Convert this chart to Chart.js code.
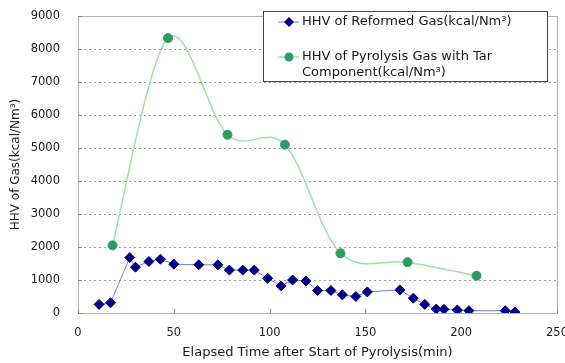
<!DOCTYPE html>
<html>
<head>
<meta charset="utf-8">
<script src="https://cdn.jsdelivr.net/npm/chart.js@4/dist/chart.umd.min.js"></script>
<style>
html,body{margin:0;padding:0;background:#fff;}
#wrap{width:565px;height:363px;position:relative;}
</style>
</head>
<body>
<div id="wrap"><canvas id="c" width="565" height="363"></canvas></div>
<script>
// ---- data ----
const reformedTime = [11,17,27,30,37,43,50,63,73,79,86,92,99,106,112,119,125,132,138,145,151,168,175,181,187,191,198,204,223,228];
const reformedHHV  = [260,310,1680,1390,1560,1630,1480,1460,1460,1300,1300,1300,1050,820,1000,970,680,680,550,500,640,700,450,260,120,110,90,70,70,30];
const pyrolysisTime = [18,47,78,108,137,172,208];
const pyrolysisHHV  = [2050,8330,5400,5100,1810,1540,1130];
const xTicks = [0,50,100,150,200,250];
const yTicks = [0,1000,2000,3000,4000,5000,6000,7000,8000,9000];
const reformedLabel = 'HHV of Reformed Gas(kcal/Nm³)';
const pyrolysisLabel = ['HHV of Pyrolysis Gas with Tar', 'Component(kcal/Nm³)'];
const xTitle = 'Elapsed Time after Start of Pyrolysis(min)';
const yTitle = 'HHV of Gas(kcal/Nm³)';

const FONT = '"DejaVu Sans", Verdana, sans-serif';
const TEXT = '#1a1a1a';
const toPts = (xs, ys) => xs.map((x, i) => ({x: x, y: ys[i]}));

// Spreadsheet-style smoothing: uniform Catmull-Rom control points for datasets flagged "smooth"
const smoothing = {
  id: 'smoothing',
  beforeDatasetsDraw(chart) {
    chart.data.datasets.forEach((ds, di) => {
      if (!ds.smooth) return;
      const meta = chart.getDatasetMeta(di);
      if (!meta.dataset) return;
      meta.dataset.updateControlPoints(chart.chartArea, 'x');
      const pts = meta.data;
      for (let i = 0; i < pts.length; i++) {
        const p = pts[i];
        const prev = pts[i - 1] || p;
        const next = pts[i + 1] || p;
        const dx = (next.x - prev.x) / 6;
        const dy = (next.y - prev.y) / 6;
        p.cp1x = p.x - dx; p.cp1y = p.y - dy;
        p.cp2x = p.x + dx; p.cp2y = p.y + dy;
      }
      meta.dataset._path = undefined;
    });
  }
};

const frame = {
  id: 'frame',
  beforeDatasetsDraw(chart) {
    const {ctx, chartArea: a, scales} = chart;
    ctx.save();
    ctx.strokeStyle = '#b0b0b0';
    ctx.lineWidth = 1;
    ctx.strokeRect(Math.round(a.left) + 0.5, Math.round(a.top) + 0.5, Math.round(a.right - a.left), Math.round(a.bottom - a.top));
    ctx.strokeStyle = '#888';
    ctx.beginPath();
    yTicks.forEach(v => {
      const y = Math.round(scales.y.getPixelForValue(v)) + 0.5;
      ctx.moveTo(a.left, y); ctx.lineTo(a.left + 4, y);
    });
    xTicks.forEach(v => {
      const x = Math.round(scales.x.getPixelForValue(v)) + 0.5;
      ctx.moveTo(x, a.bottom); ctx.lineTo(x, a.bottom - 4);
    });
    ctx.stroke();
    ctx.restore();
  }
};

const legendBox = {
  id: 'legendBox',
  afterDraw(chart) {
    const {ctx} = chart;
    const ds = chart.data.datasets;
    ctx.save();
    const bx = 263, by = 11, bw = 284, bh = 70;
    ctx.fillStyle = '#fff';
    ctx.fillRect(bx, by, bw, bh);
    ctx.strokeStyle = '#444';
    ctx.lineWidth = 1;
    ctx.strokeRect(bx + 0.5, by + 0.5, bw, bh);
    const entries = [{ds: ds[0], y: 22, lines: [ds[0].label]}, {ds: ds[1], y: 57, lines: ds[1].legendLines}];
    entries.forEach(e => {
      ctx.strokeStyle = e.ds.borderColor;
      ctx.lineWidth = e.ds.borderWidth;
      ctx.beginPath(); ctx.moveTo(278, e.y); ctx.lineTo(299, e.y); ctx.stroke();
      ctx.fillStyle = e.ds.pointBackgroundColor;
      ctx.beginPath();
      if (e.ds.pointStyle === 'rectRot') {
        const r = e.ds.pointRadius;
        ctx.moveTo(289, e.y - r); ctx.lineTo(289 + r, e.y); ctx.lineTo(289, e.y + r); ctx.lineTo(289 - r, e.y); ctx.closePath();
      } else {
        ctx.arc(289, e.y, e.ds.pointRadius, 0, Math.PI * 2);
      }
      ctx.fill();
      ctx.fillStyle = TEXT;
      ctx.font = '13px ' + FONT;
      ctx.textBaseline = 'middle';
      ctx.textAlign = 'left';
      e.lines.forEach((t, i) => ctx.fillText(t, 302, e.y + i * 15.5));
    });
    ctx.restore();
  }
};

new Chart(document.getElementById('c'), {
  type: 'line',
  data: {
    datasets: [
      {
        label: reformedLabel,
        data: toPts(reformedTime, reformedHHV),
        borderColor: '#7878d8',
        borderWidth: 1,
        pointStyle: 'rectRot',
        pointRadius: 5,
        pointBackgroundColor: '#000080',
        pointBorderColor: '#000080',
        pointBorderWidth: 1,
        tension: 0,
        order: 2
      },
      {
        label: pyrolysisLabel.join(' '),
        legendLines: pyrolysisLabel,
        smooth: true,
        data: toPts(pyrolysisTime, pyrolysisHHV),
        borderColor: '#9be69b',
        borderWidth: 1.5,
        pointStyle: 'circle',
        pointRadius: 4.5,
        pointBackgroundColor: '#2e9a64',
        pointBorderColor: '#2e9a64',
        pointBorderWidth: 1,
        tension: 0.3,
        capBezierPoints: false,
        cubicInterpolationMode: 'default',
        order: 1
      }
    ]
  },
  options: {
    responsive: false,
    animation: false,
    devicePixelRatio: 1,
    layout: {padding: {top: 16, right: 8, left: 0, bottom: 0}},
    plugins: {legend: {display: false}, tooltip: {enabled: false}},
    scales: {
      x: {
        type: 'linear', min: 0, max: 250,
        afterBuildTicks: s => { s.ticks = xTicks.map(v => ({value: v})); },
        afterFit: s => { s.height = 50; s.paddingLeft = 0; s.paddingRight = 0; },
        grid: {display: false, drawTicks: false},
        border: {display: true, color: '#999', width: 1},
        ticks: {color: TEXT, font: {family: FONT, size: 11.5}, padding: 13, maxRotation: 0, autoSkip: false, callback: v => String(v)},
        title: {display: true, text: xTitle, color: TEXT, font: {family: FONT, size: 13}, padding: {top: 4, bottom: 3}}
      },
      y: {
        type: 'linear', min: 0, max: 9000,
        afterBuildTicks: s => { s.ticks = yTicks.map(v => ({value: v})); },
        afterFit: s => { s.width = 78; s.paddingTop = 0; s.paddingBottom = 0; },
        grid: {
          drawTicks: false,
          color: c => (c.tick && (c.tick.value === 0 || c.tick.value === 9000)) ? 'rgba(0,0,0,0)' : '#9a9a9a',
          lineWidth: 1
        },
        border: {display: true, color: '#999', width: 1, dash: [2, 3]},
        ticks: {color: TEXT, font: {family: FONT, size: 11.5}, padding: 18, autoSkip: false, callback: v => String(v)},
        title: {display: true, text: yTitle, color: TEXT, font: {family: FONT, size: 12}, padding: {top: 9, bottom: 4}}
      }
    }
  },
  plugins: [smoothing, frame, legendBox]
});
</script>
</body>
</html>
